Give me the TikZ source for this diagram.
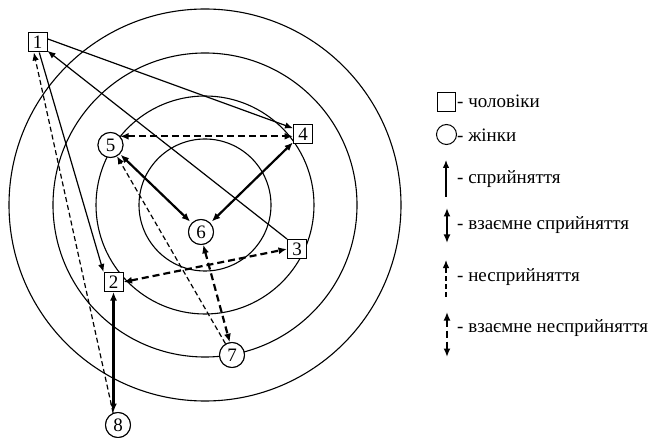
\documentclass[tikz,border=0pt]{standalone}
\usepackage{fontspec}
\setmainfont{Liberation Serif}
\usetikzlibrary{arrows.meta}
\begin{document}
\begin{tikzpicture}[x=1pt,y=-1pt,
  font=\fontsize{19}{21}\selectfont,
  man/.style={draw, rectangle, minimum size=19pt, inner sep=0pt, line width=1pt, fill=white},
  woman/.style={draw, circle, minimum size=25pt, inner sep=0pt, line width=1pt, fill=white},
  ring/.style={draw, line width=1.1pt},
  tip/.style={-{Latex[length=8pt,width=6.5pt]}},
  both/.style={{Latex[length=8.5pt,width=7pt]}-{Latex[length=8.5pt,width=7pt]}},
  accept/.style={tip, line width=1.2pt},
  mutual/.style={both, line width=2.2pt},
  reject/.style={tip, line width=1.2pt, dash pattern=on 5pt off 3pt},
  mutualreject/.style={both, line width=2.2pt, dash pattern=on 7pt off 4pt},
  legtext/.style={anchor=west, inner sep=0pt}]
\useasboundingbox (0,0) rectangle (650,438);

% concentric rings
\coordinate (c) at (205,205);
\foreach \r in {66,109,152,196} \draw[ring] (c) circle[radius=\r];

% node placement (connectors go underneath, nodes are repainted after them)
\path (37.5,42.5) node[man] (n1) {1}
      (113.5,282) node[man] (n2) {2}
      (297,249) node[man] (n3) {3}
      (303,134) node[man] (n4) {4}
      (110.5,145) node[woman] (n5) {5}
      (201,232) node[woman] (n6) {6}
      (232,355) node[woman] (n7) {7}
      (118,425) node[woman] (n8) {8};

\draw[accept] (n1.20) -- (n4.150);
\draw[accept] (n3.north west) -- (n1.-40);
\draw[accept] (n1.-80) -- (n2.north west);
\draw[reject] (n8.112) -- (n1.-110);
\draw[reject] (n7) -- (n5);
\draw[mutualreject] (n5.42) -- (n5.42 -| n4.west);
\draw[mutual, shorten <=1pt, shorten >=2pt] (n5) -- (n6);
\draw[mutual, shorten >=2pt] (n4.-140) -- (n6);
\draw[mutualreject] (n2.east) -- (n3.west);
\draw[mutualreject] (n6.-80) -- (n7.100);
\draw[mutual] (n2.south) -- (n2.south |- n8.north);

% nodes on top of the connectors
\path (37.5,42.5) node[man] {1}
      (113.5,282) node[man] {2}
      (297,249) node[man] {3}
      (303,134) node[man] {4}
      (110.5,145) node[woman] {5}
      (201,232) node[woman] {6}
      (232,355) node[woman] {7}
      (118,425) node[woman] {8};

% legend
\node[draw, rectangle, minimum width=17.5pt, minimum height=19pt, inner sep=0pt, line width=1pt] (lm) at (446.5,102.5) {};
\node[legtext] (tm) at (457,101) {- чоловіки};
\node[draw, circle, minimum size=20pt, inner sep=0pt, line width=1pt] (lw) at (446.5,134.5) {};
\node[legtext] (tw) at (457,135) {- жінки};

\coordinate (a1) at (446,197); \coordinate (b1) at (446,160);
\draw[accept] (a1) -- (b1);
\node[legtext] (t1) at (457,179) {- сприйняття};

\coordinate (a2) at (447,208); \coordinate (b2) at (447,243);
\draw[mutual] (a2) -- (b2);
\node[legtext] (t2) at (457,225) {- взаємне сприйняття};

\coordinate (a3) at (446,297); \coordinate (b3) at (446,260);
\draw[reject] (a3) -- (b3);
\node[legtext] (t3) at (457,277) {- несприйняття};

\coordinate (a4) at (447,312); \coordinate (b4) at (447,357);
\draw[mutualreject] (a4) -- (b4);
\node[legtext] (t4) at (457,328) {- взаємне несприйняття};
\end{tikzpicture}
\end{document}
